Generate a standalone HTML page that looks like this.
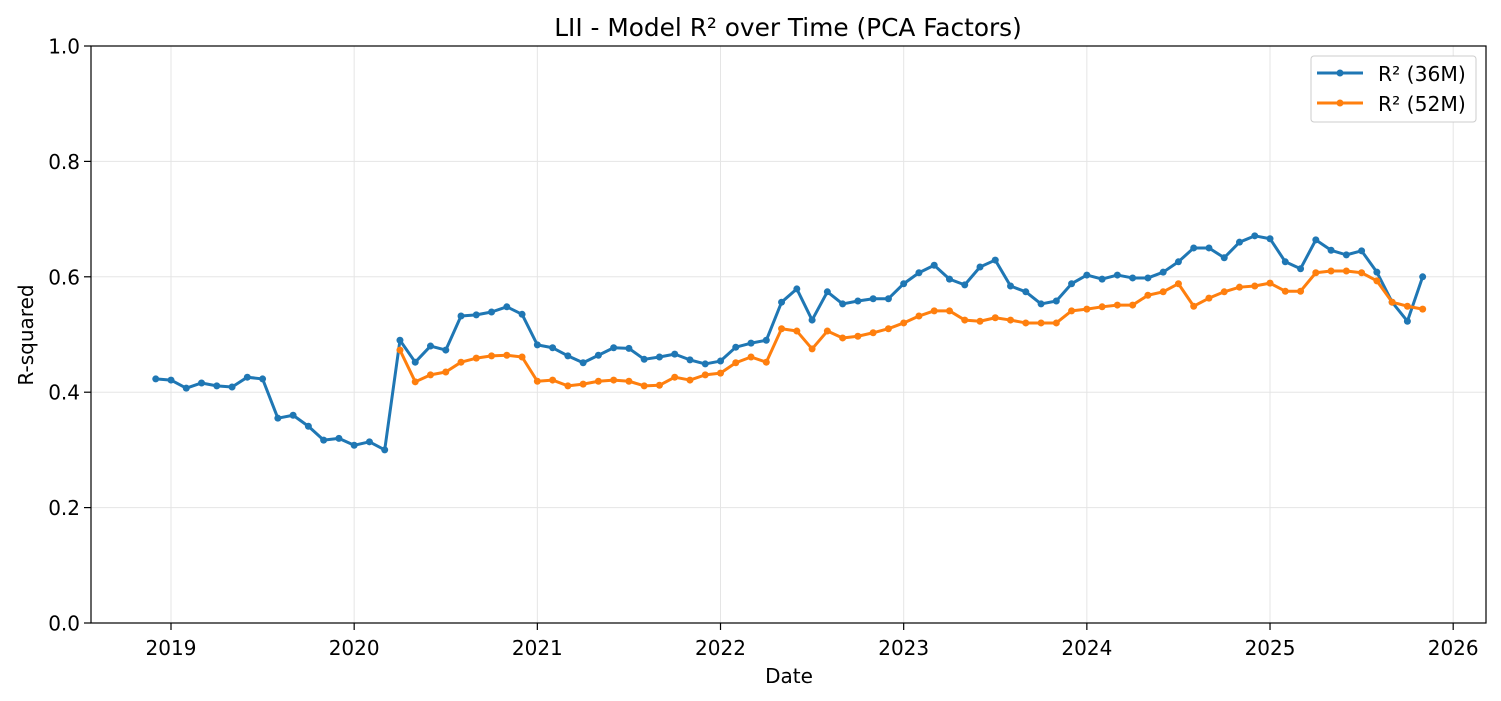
<!DOCTYPE html>
<html><head><meta charset="utf-8">
<style>
html,body{margin:0;padding:0;background:#fff;}
svg{display:block;font-family:"DejaVu Sans","Liberation Sans",sans-serif;}
</style></head>
<body>
<svg id="chart" width="1501" height="701" viewBox="0 0 1501 701" xmlns="http://www.w3.org/2000/svg">
<rect x="0" y="0" width="1501" height="701" fill="#fff"/>
<g id="grid"></g>
<g id="series"></g>
<rect x="91" y="46" width="1395" height="577" fill="none" stroke="#000" stroke-width="1.2"/>
<g id="axes"></g>
<text x="788" y="36" text-anchor="middle" font-size="24.8">LII - Model R² over Time (PCA Factors)</text>
<text x="789" y="683" text-anchor="middle" font-size="20">Date</text>
<text x="0" y="0" transform="translate(33,335) rotate(-90)" text-anchor="middle" font-size="20">R-squared</text>
<g>
<rect x="1311" y="56" width="165" height="66" rx="3" fill="#fff" stroke="#ccc" stroke-width="1"/>
<g>
<line x1="1317" y1="73" x2="1363" y2="73" stroke="#1f77b4" stroke-width="3"/>
<circle cx="1340" cy="73" r="3.5" fill="#1f77b4"/>
<text x="1378" y="81" font-size="20.3">R² (36M)</text>
</g>
<g>
<line x1="1317" y1="103" x2="1363" y2="103" stroke="#ff7f0e" stroke-width="3"/>
<circle cx="1340" cy="103" r="3.5" fill="#ff7f0e"/>
<text x="1378" y="111" font-size="20.3">R² (52M)</text>
</g>
</g>
</svg>
<script>
const yTicks=[0,0.2,0.4,0.6,0.8,1.0];
const yTickLabels=["0.0","0.2","0.4","0.6","0.8","1.0"];
const xTickYears=[2019,2020,2021,2022,2023,2024,2025,2026];
const start36="2018-12";
const r2_36=[0.423,0.421,0.407,0.416,0.411,0.409,0.426,0.423,0.355,0.360,0.341,0.317,0.320,0.308,0.314,0.300,
0.490,0.452,0.480,0.473,0.532,0.534,0.539,0.548,0.535,
0.482,0.477,0.463,0.451,0.464,0.477,0.476,0.457,0.461,0.466,0.456,0.449,
0.454,0.478,0.485,0.490,0.556,0.579,0.525,0.574,0.553,0.558,0.562,0.562,
0.588,0.607,0.620,0.596,0.586,0.617,0.629,0.584,0.574,0.553,0.558,0.588,
0.603,0.596,0.603,0.598,0.598,0.608,0.626,0.650,0.650,0.633,0.660,0.671,
0.666,0.626,0.614,0.664,0.646,0.638,0.645,0.608,0.556,0.523,0.600];
const start52="2020-04";
const r2_52=[0.473,0.418,0.430,0.435,0.452,0.459,0.463,0.464,0.461,
0.419,0.421,0.411,0.414,0.419,0.421,0.419,0.411,0.412,0.426,0.421,0.430,
0.433,0.451,0.461,0.452,0.510,0.506,0.475,0.506,0.494,0.497,0.503,0.510,
0.520,0.532,0.541,0.541,0.525,0.523,0.529,0.525,0.520,0.520,0.520,0.541,
0.544,0.548,0.551,0.551,0.568,0.574,0.588,0.549,0.563,0.574,0.582,0.584,
0.589,0.575,0.575,0.607,0.610,0.610,0.607,0.593,0.556,0.549,0.544];

const NS="http://www.w3.org/2000/svg";
function yPos(v){return 623-v*577;}
function xPos(yearFrac){return 171+(yearFrac-2019)*183.17;}
function monthToFrac(startStr,i){const [y,m]=startStr.split("-").map(Number);const t=(y*12+(m-1))+i;return Math.floor(t/12)+(t%12)/12;}
function mk(tag,attrs,parent){const e=document.createElementNS(NS,tag);for(const k in attrs)e.setAttribute(k,attrs[k]);parent.appendChild(e);return e;}

const grid=document.getElementById("grid"),axes=document.getElementById("axes"),series=document.getElementById("series");
yTicks.forEach((v,i)=>{
  const y=yPos(v);
  const g=mk("line",{x1:91,x2:1486,y1:y,y2:y,stroke:"#e5e5e5","stroke-width":1},grid);
  
  
  mk("line",{x1:84,x2:91,y1:y,y2:y,stroke:"#000","stroke-width":1.2},axes);
  const t=mk("text",{x:80,y:y+7.5,"text-anchor":"end","font-size":20},axes);
  t.textContent=yTickLabels[i];
  
  
});
xTickYears.forEach(yr=>{
  const x=xPos(yr);
  const g=mk("line",{x1:x,x2:x,y1:46,y2:623,stroke:"#e5e5e5","stroke-width":1},grid);
  
  
  mk("line",{x1:x,x2:x,y1:623,y2:630,stroke:"#000","stroke-width":1.2},axes);
  const t=mk("text",{x:x,y:655,"text-anchor":"middle","font-size":20},axes);
  t.textContent=String(yr);
  
  
});
function drawSeries(vals,start,color,name){
  const pts=vals.map((v,i)=>[xPos(monthToFrac(start,i)),yPos(v)]);
  const p=mk("polyline",{points:pts.map(q=>q.join(",")).join(" "),fill:"none",stroke:color,"stroke-width":3,"stroke-linejoin":"round"},series);
  
  
  pts.forEach(q=>{
    const c=mk("circle",{cx:q[0],cy:q[1],r:3.5,fill:color},series);
    
    
  });
}
drawSeries(r2_36,start36,"#1f77b4","r2-36m");
drawSeries(r2_52,start52,"#ff7f0e","r2-52m");
</script>
</body></html>
